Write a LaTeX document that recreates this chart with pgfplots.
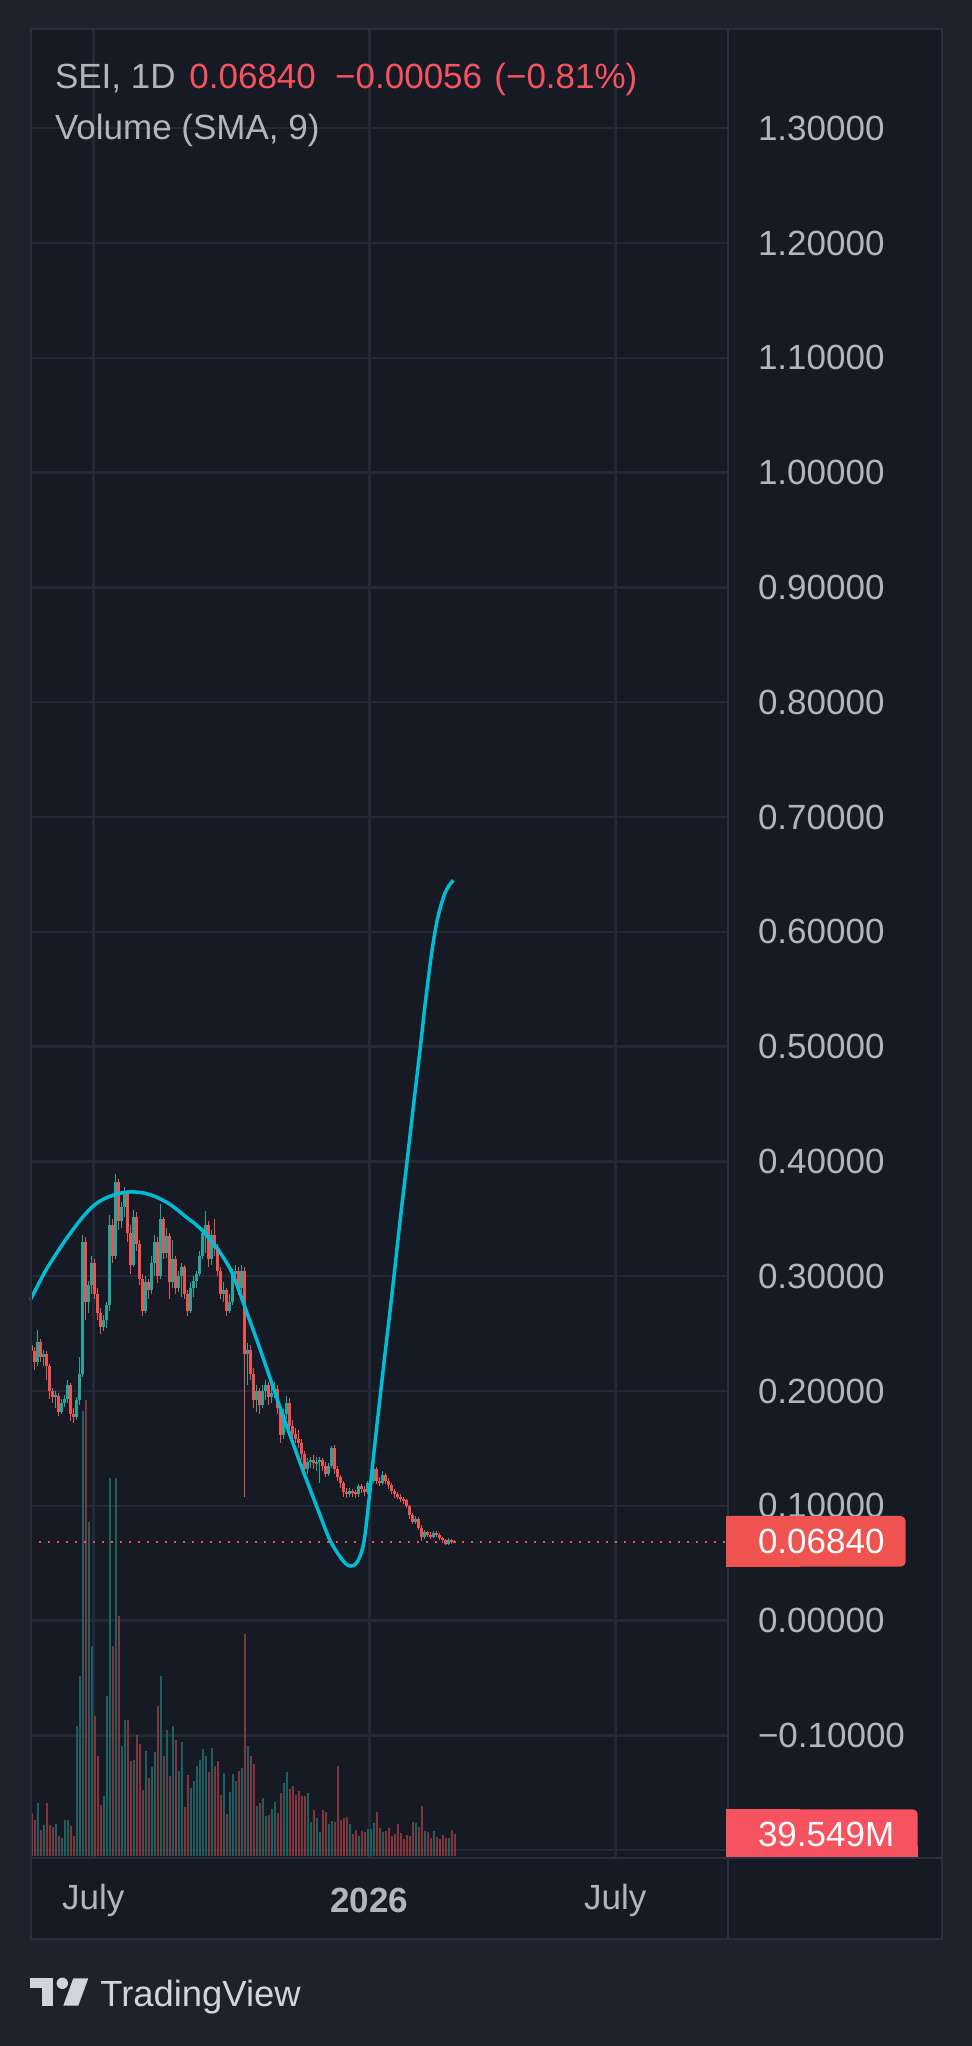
\documentclass[border=0pt]{standalone}
\usepackage{pgfplots}
\pgfplotsset{compat=1.18}
\usepackage{pgfplotstable}
\usepackage{fontspec}
\setmainfont{Liberation Sans}
\definecolor{outerbg}{HTML}{1F222C}
\definecolor{panelbg}{HTML}{161A25}
\definecolor{gridc}{HTML}{252935}
\definecolor{borderc}{HTML}{2B2F3B}
\definecolor{txt}{HTML}{B2B5BE}
\definecolor{logoc}{HTML}{D1D4DC}
\definecolor{upc}{HTML}{26A69A}
\definecolor{dnc}{HTML}{EF5350}
\definecolor{titlered}{HTML}{F7525F}
\definecolor{volbox}{HTML}{F7525F}
\definecolor{cyanc}{HTML}{00BCD4}
\colorlet{upv}{upc!50!panelbg}
\colorlet{dnv}{dnc!50!panelbg}
\pgfplotsset{candle/.style={draw=none, mark=none, forget plot, restrict y to domain=-1:2,
  error bars/y dir=both, error bars/y explicit, error bars/error mark=none}}

\pgfplotstableread{
x o h l c v
-41 0.240 0.246 0.228 0.235 77
-39 0.235 0.238 0.218 0.225 65
-37 0.225 0.253 0.222 0.243 95
-35 0.243 0.245 0.225 0.230 47
-33 0.230 0.236 0.222 0.232 56
-31 0.232 0.235 0.210 0.222 95
-29 0.222 0.224 0.193 0.200 56
-27 0.200 0.203 0.190 0.195 52
-25 0.195 0.200 0.185 0.196 58
-23 0.196 0.198 0.178 0.182 36
-21 0.182 0.193 0.180 0.190 32
-19 0.190 0.197 0.186 0.193 65
-17 0.193 0.210 0.190 0.205 65
-15 0.205 0.207 0.174 0.180 54
-13 0.180 0.185 0.172 0.177 36
-11 0.177 0.195 0.175 0.192 234
-9 0.192 0.230 0.188 0.215 324
-7 0.215 0.336 0.212 0.330 800
-5 0.330 0.334 0.262 0.278 819
-3 0.278 0.296 0.268 0.292 600
-1 0.292 0.318 0.285 0.312 378
1 0.312 0.315 0.280 0.285 252
3 0.285 0.290 0.262 0.268 180
5 0.268 0.272 0.250 0.256 92
7 0.256 0.266 0.252 0.262 108
9 0.262 0.278 0.255 0.275 288
11 0.275 0.353 0.270 0.345 680
13 0.345 0.350 0.312 0.318 378
15 0.318 0.389 0.315 0.382 680
17 0.382 0.385 0.340 0.348 432
19 0.348 0.365 0.342 0.360 198
21 0.360 0.378 0.352 0.372 245
23 0.372 0.375 0.330 0.338 245
25 0.338 0.345 0.302 0.310 171
27 0.310 0.358 0.308 0.352 173
29 0.352 0.356 0.322 0.328 218
31 0.328 0.332 0.292 0.298 202
33 0.298 0.302 0.265 0.270 119
35 0.270 0.300 0.268 0.295 189
37 0.295 0.298 0.280 0.288 140
39 0.288 0.318 0.285 0.312 160
41 0.312 0.336 0.300 0.330 187
43 0.330 0.334 0.294 0.300 270
45 0.300 0.363 0.298 0.350 324
47 0.350 0.352 0.315 0.320 180
49 0.320 0.342 0.316 0.335 227
51 0.335 0.338 0.280 0.295 144
53 0.295 0.332 0.290 0.315 234
55 0.315 0.318 0.285 0.290 209
57 0.290 0.305 0.286 0.300 153
59 0.300 0.312 0.282 0.308 205
61 0.308 0.310 0.280 0.285 88
63 0.285 0.288 0.265 0.270 146
65 0.270 0.295 0.268 0.290 122
67 0.290 0.300 0.282 0.296 135
69 0.296 0.305 0.290 0.302 162
71 0.302 0.322 0.300 0.318 173
73 0.318 0.342 0.315 0.338 193
75 0.338 0.357 0.320 0.345 180
77 0.345 0.348 0.308 0.315 151
79 0.315 0.340 0.310 0.336 194
81 0.336 0.350 0.318 0.325 162
83 0.325 0.328 0.300 0.305 171
85 0.305 0.308 0.280 0.285 110
87 0.285 0.295 0.278 0.288 149
89 0.288 0.290 0.265 0.270 76
91 0.270 0.285 0.268 0.278 115
93 0.278 0.306 0.275 0.302 148
95 0.302 0.310 0.296 0.305 135
97 0.305 0.308 0.284 0.290 153
99 0.290 0.310 0.286 0.305 158
101 0.305 0.308 0.108 0.232 398
103 0.232 0.242 0.205 0.236 198
105 0.236 0.240 0.210 0.215 180
107 0.215 0.220 0.185 0.192 166
109 0.192 0.205 0.182 0.200 90
111 0.200 0.203 0.180 0.188 95
113 0.188 0.205 0.185 0.200 104
115 0.200 0.210 0.192 0.205 72
117 0.205 0.208 0.188 0.195 74
119 0.195 0.204 0.190 0.198 85
121 0.198 0.208 0.194 0.202 97
123 0.202 0.205 0.180 0.185 77
125 0.185 0.188 0.155 0.162 113
127 0.162 0.184 0.158 0.180 131
129 0.180 0.196 0.176 0.190 151
131 0.190 0.194 0.166 0.170 121
133 0.170 0.175 0.158 0.163 126
135 0.163 0.168 0.155 0.158 110
137 0.158 0.166 0.150 0.155 117
139 0.155 0.158 0.140 0.145 108
141 0.145 0.148 0.128 0.132 108
143 0.132 0.142 0.128 0.138 113
145 0.138 0.143 0.133 0.140 61
147 0.140 0.144 0.132 0.137 83
149 0.137 0.143 0.130 0.138 68
151 0.138 0.143 0.120 0.140 43
153 0.140 0.142 0.130 0.135 83
155 0.135 0.138 0.125 0.128 79
157 0.128 0.137 0.126 0.135 58
159 0.135 0.152 0.133 0.150 63
161 0.150 0.153 0.128 0.132 61
163 0.132 0.135 0.122 0.125 162
165 0.125 0.127 0.116 0.120 65
167 0.120 0.122 0.108 0.112 68
169 0.112 0.116 0.107 0.110 70
171 0.110 0.116 0.108 0.113 58
173 0.113 0.115 0.108 0.112 40
175 0.112 0.114 0.107 0.110 47
177 0.110 0.119 0.108 0.117 36
179 0.117 0.119 0.111 0.115 45
181 0.115 0.117 0.109 0.112 43
183 0.112 0.122 0.110 0.120 49
185 0.120 0.125 0.117 0.122 49
187 0.122 0.137 0.120 0.132 59
189 0.132 0.134 0.119 0.122 79
191 0.122 0.125 0.117 0.120 50
193 0.120 0.130 0.118 0.127 43
195 0.127 0.129 0.119 0.122 45
197 0.122 0.124 0.115 0.118 50
199 0.118 0.120 0.110 0.113 36
201 0.113 0.115 0.107 0.110 40
203 0.110 0.112 0.106 0.108 58
205 0.108 0.110 0.103 0.106 41
207 0.106 0.108 0.102 0.105 31
209 0.105 0.106 0.098 0.100 38
211 0.100 0.101 0.089 0.092 36
213 0.092 0.094 0.084 0.086 61
215 0.086 0.091 0.084 0.089 59
217 0.089 0.090 0.079 0.081 52
219 0.081 0.083 0.069 0.073 90
221 0.073 0.079 0.071 0.077 45
223 0.077 0.078 0.073 0.075 43
225 0.075 0.077 0.071 0.073 32
227 0.073 0.078 0.072 0.076 45
229 0.076 0.078 0.073 0.075 34
231 0.075 0.076 0.070 0.072 31
233 0.072 0.073 0.068 0.070 38
235 0.070 0.071 0.066 0.067 32
237 0.067 0.072 0.066 0.070 32
239 0.070 0.071 0.067 0.0690 47
241 0.0690 0.0700 0.0675 0.0684 39.549
}\sei

\pgfplotstableread{
x y
-42.2 0.279
-37 0.292
-32.2 0.304
-25 0.319
-17.8 0.333
-9 0.3485
-1.1 0.3600
5 0.3659
10 0.3691
16 0.3718
21.2 0.3731
27 0.3735
34.5 0.3723
41 0.3696
48.9 0.3645
55 0.3590
62 0.3515
68 0.3455
73.3 0.3390
82 0.3255
91.1 0.3070
96 0.2915
102.2 0.2690
110 0.2410
117.8 0.2115
125 0.1840
133.3 0.1540
140 0.1300
146 0.1095
151 0.0925
157.8 0.0700
164.5 0.0557
168.5 0.0495
171.8 0.0476
175 0.0495
177.8 0.0560
180.5 0.0690
183.3 0.0990
187.3 0.1490
193.3 0.2190
199 0.2830
204.5 0.3480
208.9 0.3970
213.3 0.4470
217.8 0.4970
221.5 0.5400
225.6 0.5820
228.5 0.6050
231.1 0.6200
234.5 0.6340
237.5 0.6410
240 0.6450
}\curve

\begin{document}
\begin{tikzpicture}
\fill[outerbg] (0pt,0pt) rectangle (486pt,1023pt);
\fill[panelbg] (14.85pt,53pt) rectangle (470.8pt,1008.5pt);

\begin{axis}[
  at={(14.85pt,94pt)}, anchor=south west,
  scale only axis, width=348.65pt, height=914.5pt,
  xmin=-42.4, xmax=422.47, ymin=-0.20671, ymax=1.38650,
  axis line style={draw=none},
  major tick length=0pt, tick style={draw=none},
  xtick={0,184,348},
  xticklabels={July,\textbf{2026},July},
  xticklabel style={anchor=center, yshift=-21pt, inner sep=0pt,
    font=\fontsize{17.5}{20}\selectfont, text=txt},
  ytick={-0.2,-0.1,0,0.1,0.2,0.3,0.4,0.5,0.6,0.7,0.8,0.9,1.0,1.1,1.2,1.3},
  yticklabels={{},−0.10000,0.00000,0.10000,0.20000,0.30000,0.40000,0.50000,0.60000,0.70000,0.80000,0.90000,1.00000,1.10000,1.20000,1.30000},
  yticklabel pos=right,
  yticklabel style={anchor=west, xshift=15.3pt, inner sep=0pt,
    font=\fontsize{17.5}{20}\selectfont, text=txt},
  grid=major,
  major grid style={draw=gridc, line width=1.2pt},
  clip=true,
]
% volume (drawn in price units: baseline -0.20497, 1M = 0.00048484)
\addplot[candle, error bars/error bar style={line width=1pt, draw=upv}]
  table[x=x, y expr={\thisrow{c}>=\thisrow{o} ? -0.20497+\thisrow{v}*0.00024242 : 99},
        y error expr={\thisrow{v}*0.00024242}] {\sei};
\addplot[candle, error bars/error bar style={line width=1pt, draw=dnv}]
  table[x=x, y expr={\thisrow{c}<\thisrow{o} ? -0.20497+\thisrow{v}*0.00024242 : 99},
        y error expr={\thisrow{v}*0.00024242}] {\sei};
% price line
\addplot[draw=dnc, line width=1.2pt, dash pattern=on 1.2pt off 3.3pt, forget plot]
  coordinates {(-42.4,0.0684) (422.47,0.0684)};
% wicks
\addplot[candle, error bars/error bar style={line width=0.45pt, draw=upc}]
  table[x=x, y expr={\thisrow{c}>=\thisrow{o} ? (\thisrow{h}+\thisrow{l})/2 : 99},
        y error expr={(\thisrow{h}-\thisrow{l})/2}] {\sei};
\addplot[candle, error bars/error bar style={line width=0.45pt, draw=dnc}]
  table[x=x, y expr={\thisrow{c}<\thisrow{o} ? (\thisrow{h}+\thisrow{l})/2 : 99},
        y error expr={(\thisrow{h}-\thisrow{l})/2}] {\sei};
% bodies
\addplot[candle, error bars/error bar style={line width=1.4pt, draw=upc}]
  table[x=x, y expr={\thisrow{c}>=\thisrow{o} ? (\thisrow{o}+\thisrow{c})/2 : 99},
        y error expr={max(abs(\thisrow{o}-\thisrow{c})/2,0.0008)}] {\sei};
\addplot[candle, error bars/error bar style={line width=1.4pt, draw=dnc}]
  table[x=x, y expr={\thisrow{c}<\thisrow{o} ? (\thisrow{o}+\thisrow{c})/2 : 99},
        y error expr={max(abs(\thisrow{o}-\thisrow{c})/2,0.0008)}] {\sei};
% cyan curve
\addplot[draw=cyanc, line width=1.75pt, smooth, mark=none, forget plot] table[x=x,y=y] {\curve};
\end{axis}

% frame lines
\draw[borderc, line width=1pt] (15.35pt,53.5pt) rectangle (470.8pt,1008.4pt);
\draw[borderc, line width=1pt] (363.9pt,53.5pt) -- (363.9pt,1008.4pt);
\draw[borderc, line width=1pt] (15.35pt,94pt) -- (470.8pt,94pt);

% last price label
\fill[dnc, rounded corners=2.5pt] (363pt,239.65pt) rectangle (452.85pt,265pt);
\fill[dnc] (363pt,239.65pt) rectangle (400pt,265pt);
\node[anchor=west, inner sep=0pt, text=white, font=\fontsize{17.5}{20}\selectfont] at (378.8pt,252.3pt) {0.06840};
% volume label
\fill[volbox, rounded corners=2.5pt] (363pt,94.65pt) rectangle (458.85pt,118.35pt);
\fill[volbox] (363pt,94.65pt) rectangle (400pt,118.35pt);
\fill[volbox] (363pt,94.65pt) rectangle (458.85pt,100pt);
\node[anchor=west, inner sep=0pt, text=white, font=\fontsize{17.5}{20}\selectfont] at (378.8pt,105.8pt) {39.549M};

% legend / title
\node[anchor=base west, inner sep=0pt, text=txt, font=\fontsize{17.5}{20}\selectfont] at (27.3pt,978.6pt) {SEI, 1D};
\node[anchor=base west, inner sep=0pt, text=titlered, font=\fontsize{17.5}{20}\selectfont] at (94.5pt,978.6pt) {0.06840};
\node[anchor=base west, inner sep=0pt, text=titlered, font=\fontsize{17.5}{20}\selectfont] at (167.4pt,978.6pt) {−0.00056};
\node[anchor=base west, inner sep=0pt, text=titlered, font=\fontsize{17.5}{20}\selectfont] at (247pt,978.6pt) {(−0.81\%)};
\node[anchor=base west, inner sep=0pt, text=txt, font=\fontsize{17.5}{20}\selectfont] at (27.3pt,953.3pt) {Volume (SMA, 9)};

% TradingView logo
\fill[logoc] (15pt,28.85pt) rectangle (26.65pt,33.85pt);
\fill[logoc] (20.85pt,20.15pt) rectangle (26.65pt,33.85pt);
\fill[logoc] (31.15pt,31.35pt) circle (2.85pt);
\fill[logoc] (36.65pt,33.85pt) -- (44.15pt,33.85pt) -- (39.15pt,20.15pt) -- (31.65pt,20.15pt) -- cycle;
\node[anchor=base west, inner sep=0pt, text=logoc, font=\fontsize{18.2}{20}\selectfont] at (50pt,19.65pt) {TradingView};

\pgfresetboundingbox
\useasboundingbox (0pt,0pt) rectangle (486pt,1023pt);
\end{tikzpicture}
\end{document}
